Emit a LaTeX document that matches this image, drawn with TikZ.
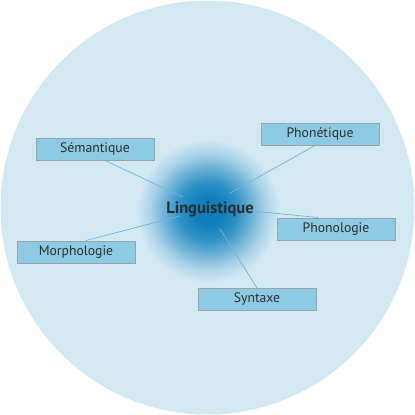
\documentclass[tikz,border=0pt]{standalone}
\usepackage{fontspec}
\setmainfont{PT Sans}
\definecolor{bgc}{HTML}{D3E9F2}
\definecolor{boxc}{HTML}{8DCAE3}
\definecolor{boxd}{HTML}{9AA3A8}
\definecolor{linec}{HTML}{6BB8D9}
\definecolor{blobc}{HTML}{0A7DBB}
\definecolor{txtc}{HTML}{2E2E2E}
\pgfdeclareradialshading{blob}{\pgfpoint{0bp}{0bp}}{%
  color(0bp)=(blobc); color(5bp)=(blobc!97!bgc); color(10bp)=(blobc!80!bgc);
  color(14bp)=(blobc!55!bgc); color(19bp)=(blobc!22!bgc); color(24bp)=(bgc);
  color(50bp)=(bgc)}
\tikzset{
  lbox/.style={draw=boxd, line width=1pt, fill=boxc, minimum width=118pt,
    minimum height=22pt, inner sep=0pt, text=txtc, font=\fontsize{13.7}{15}\selectfont},
  conn/.style={draw=linec, line width=0.7pt}
}
\begin{document}
\begin{tikzpicture}[x=1pt,y=-1pt]
\useasboundingbox (0,0) rectangle (415,415);
\fill[bgc] (207.5,207.5) circle[radius=207];
\shade[shading=blob] (208,211) circle[radius=75];
\coordinate (cs) at (183,197);
\coordinate (cm) at (180,216);
\coordinate (cp) at (230,193);
\coordinate (cl) at (252,211);
\coordinate (cy) at (220,229);
\node[lbox] (sem) at (95,149) {Sémantique};
\node[lbox] (mor) at (76,252) {Morphologie};
\node[lbox] (phe) at (320,134) {Phonétique};
\node[lbox] (pho) at (336,229) {Phonologie};
\node[lbox] (syn) at (257,299.5) {Syntaxe};
\draw[conn] (cs) -- ([xshift=10pt]sem.south);
\draw[conn] (cm) -- ([xshift=10pt]mor.north);
\draw[conn] (cp) -- ([xshift=-5pt]phe.south);
\draw[conn] (cl) -- ([xshift=-18pt]pho.north);
\draw[conn] (cy) -- (syn.north);
\node[text=txtc, font=\bfseries\fontsize{16.5}{18}\selectfont] (lin) at (210,209) {Linguistique};
\end{tikzpicture}
\end{document}
